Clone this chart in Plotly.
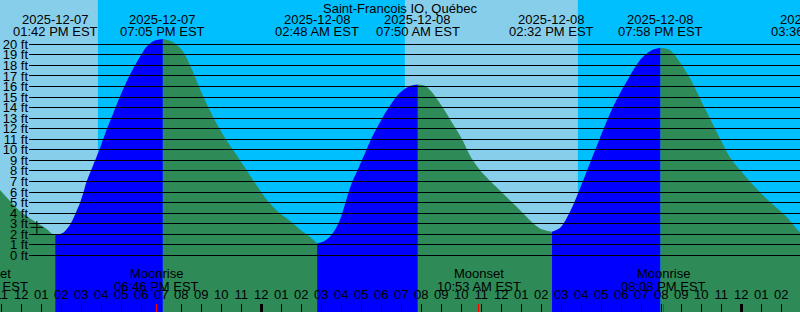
import plotly.graph_objects as go
import pandas as pd

TITLE = "Saint-Francois IO, Québec"
TZ_LABEL = "EST"
FONT = "Liberation Sans, Arial, sans-serif"

# ---- tide curve (local time, feet) ----
TIDE_TIMES = [
    "2025-12-07 10:56", "2025-12-07 11:56", "2025-12-07 12:36", "2025-12-07 13:16",
    "2025-12-07 13:31", "2025-12-07 13:42", "2025-12-07 14:06", "2025-12-07 14:26",
    "2025-12-07 14:41", "2025-12-07 14:56", "2025-12-07 15:06", "2025-12-07 15:16",
    "2025-12-07 15:36", "2025-12-07 15:56",
    "2025-12-07 16:16", "2025-12-07 16:36", "2025-12-07 16:56", "2025-12-07 17:16",
    "2025-12-07 17:36", "2025-12-07 17:56", "2025-12-07 18:16", "2025-12-07 18:36",
    "2025-12-07 19:05", "2025-12-07 19:36", "2025-12-07 20:06", "2025-12-07 20:31",
    "2025-12-07 20:56", "2025-12-07 21:16", "2025-12-07 21:46", "2025-12-07 22:16",
    "2025-12-07 22:46", "2025-12-07 23:26", "2025-12-08 00:16", "2025-12-08 00:56",
    "2025-12-08 01:26", "2025-12-08 01:56", "2025-12-08 02:26", "2025-12-08 02:41",
    "2025-12-08 02:48", "2025-12-08 03:06", "2025-12-08 03:26", "2025-12-08 03:41",
    "2025-12-08 03:56", "2025-12-08 04:11",
    "2025-12-08 04:31", "2025-12-08 04:51", "2025-12-08 05:11", "2025-12-08 05:31",
    "2025-12-08 05:51", "2025-12-08 06:11", "2025-12-08 06:31", "2025-12-08 06:51",
    "2025-12-08 07:11", "2025-12-08 07:31", "2025-12-08 07:50", "2025-12-08 08:11",
    "2025-12-08 08:31", "2025-12-08 09:01", "2025-12-08 09:31", "2025-12-08 10:01",
    "2025-12-08 10:31", "2025-12-08 11:01", "2025-12-08 11:51", "2025-12-08 12:41",
    "2025-12-08 13:31", "2025-12-08 13:56", "2025-12-08 14:32", "2025-12-08 14:56",
    "2025-12-08 15:16", "2025-12-08 15:36", "2025-12-08 15:56", "2025-12-08 16:16",
    "2025-12-08 16:36", "2025-12-08 16:56", "2025-12-08 17:16", "2025-12-08 17:36",
    "2025-12-08 17:56", "2025-12-08 18:16", "2025-12-08 18:36", "2025-12-08 18:56",
    "2025-12-08 19:16", "2025-12-08 19:36", "2025-12-08 19:58", "2025-12-08 20:26",
    "2025-12-08 20:56", "2025-12-08 21:26", "2025-12-08 21:56", "2025-12-08 22:26",
    "2025-12-08 22:56", "2025-12-08 23:26", "2025-12-08 23:56", "2025-12-09 00:36",
    "2025-12-09 01:26", "2025-12-09 02:16", "2025-12-09 02:56", "2025-12-09 03:36",
]
TIDE_FT = [
    6.2, 4.2, 3.3, 2.5,
    2.08, 1.9, 2.14, 2.87,
    3.82, 4.93, 5.88, 6.97,
    8.55, 10.13,
    11.87, 13.45, 15.02, 16.45,
    17.7, 18.8, 19.76, 20.3,
    20.5, 20.2, 19.3, 17.7,
    15.8, 14.4, 12.5, 10.9,
    9.5, 7.6, 5.3, 3.98,
    3.28, 2.46, 1.76, 1.32,
    1.13, 1.29, 1.76, 2.4,
    3.35, 4.8,
    6.8, 8.2, 9.66, 11.1,
    12.3, 13.45, 14.4, 15.25,
    15.8, 16.1, 16.2, 16.07,
    15.5, 14.2, 12.65, 11.1,
    9.2, 7.9, 6.3, 4.76,
    3.18, 2.55, 2.23, 2.6,
    3.5, 4.76, 6.3, 7.9,
    9.5, 11.1, 12.65, 14.1,
    15.35, 16.45, 17.55, 18.5,
    19.1, 19.5, 19.67, 19.45,
    18.3, 16.8, 14.9, 13.0,
    11.1, 9.3, 8.1, 6.65,
    5.07, 3.65, 2.2, 1.6,
]

# ---- high / low tide events ----
EXTREME_TIMES = [
    "2025-12-07 13:42", "2025-12-07 19:05", "2025-12-08 02:48", "2025-12-08 07:50",
    "2025-12-08 14:32", "2025-12-08 19:58", "2025-12-09 03:36",
]

# ---- moon events ----
MOON_EVENTS = ["Moonset", "Moonrise", "Moonset", "Moonrise"]
MOON_TIMES = ["2025-12-07 10:14", "2025-12-07 18:46", "2025-12-08 10:53", "2025-12-08 20:08"]

# ---- daylight periods ----
DAY_STARTS = ["2025-12-07 07:10", "2025-12-08 07:11"]
DAY_ENDS = ["2025-12-07 15:50", "2025-12-08 15:50"]

# ---- current position marker ----
NOW_TIME = ["2025-12-07 12:47"]
NOW_FT = [2.65]

Y_TICKS = list(range(0, 21))
Y_TICK_LABELS = [f"{v} ft" for v in Y_TICKS]

X_RANGE = ["2025-12-07 10:56:24", "2025-12-09 02:56:24"]
Y_RANGE = [-5.37, 24.2]

NIGHT = "#00BFFF"
DAY = "#87CEEB"
RISING = "#0000FF"
FALLING = "#2E8B57"

W, H = 800, 312

X0, X1 = pd.Timestamp(X_RANGE[0]), pd.Timestamp(X_RANGE[1])
midnights = [str(d) for d in pd.date_range(X0.normalize(), X1, freq="D") if X0 <= d <= X1]

fig = go.Figure()

# tide fills, split at the high/low events
idx = [i for i, t in enumerate(TIDE_TIMES) if t in EXTREME_TIMES]
bounds = sorted(set([0] + idx + [len(TIDE_TIMES) - 1]))
for a, b in zip(bounds[:-1], bounds[1:]):
    xs = TIDE_TIMES[a:b + 1]
    ys = TIDE_FT[a:b + 1]
    color = RISING if ys[-1] > ys[0] else FALLING
    fig.add_trace(go.Scatter(x=[xs[0], xs[-1]], y=[Y_RANGE[0], Y_RANGE[0]], mode="lines",
                             line=dict(width=0), hoverinfo="skip", showlegend=False))
    fig.add_trace(go.Scatter(x=xs, y=ys, mode="lines", fill="tonexty", fillcolor=color,
                             line=dict(width=0, shape="spline", smoothing=0.8),
                             hoverinfo="skip", showlegend=False))

fig.add_trace(go.Scatter(x=NOW_TIME, y=NOW_FT, mode="markers",
                         marker=dict(symbol="cross-thin", size=9, line=dict(width=1, color="black")),
                         showlegend=False, hoverinfo="skip"))

# helper traces so the grid / extra tick axes exist
fig.add_trace(go.Scatter(x=[None], y=[None], xaxis="x2", yaxis="y2", showlegend=False, hoverinfo="skip"))
fig.add_trace(go.Scatter(x=midnights, y=[None] * len(midnights), xaxis="x3", yaxis="y",
                         showlegend=False, hoverinfo="skip"))
fig.add_trace(go.Scatter(x=MOON_TIMES, y=[None] * len(MOON_TIMES), xaxis="x4", yaxis="y",
                         showlegend=False, hoverinfo="skip"))

for s, e in zip(DAY_STARTS, DAY_ENDS):
    fig.add_vrect(x0=s, x1=e, fillcolor=DAY, line_width=0, layer="below", opacity=1)


def xpos(t):
    ts = pd.Timestamp(t)
    if X0 <= ts <= X1:
        return dict(x=t, xref="x")
    return dict(x=(ts - X0) / (X1 - X0), xref="paper")


def ypaper(px):
    return 1 - px / H


tf = dict(family=FONT, size=13, color="black")
ann = []
ann.append(dict(text=TITLE, x=0.5, xref="paper", y=ypaper(8), yref="paper",
                showarrow=False, font=tf, xanchor="center", yanchor="middle"))
for t in EXTREME_TIMES:
    ts = pd.Timestamp(t)
    ann.append(dict(text=ts.strftime("%Y-%m-%d"), y=ypaper(19.5), yref="paper", showarrow=False,
                    font=tf, xanchor="center", yanchor="middle", **xpos(t)))
    ann.append(dict(text=ts.strftime("%I:%M %p") + " " + TZ_LABEL, y=ypaper(31.5), yref="paper",
                    showarrow=False, font=tf, xanchor="center", yanchor="middle", **xpos(t)))
for name, t in zip(MOON_EVENTS, MOON_TIMES):
    ts = pd.Timestamp(t)
    ann.append(dict(text=name, y=ypaper(273.5), yref="paper", showarrow=False,
                    font=tf, xanchor="center", yanchor="middle", **xpos(t)))
    ann.append(dict(text=ts.strftime("%I:%M %p") + " " + TZ_LABEL, y=ypaper(286.5), yref="paper",
                    showarrow=False, font=tf, xanchor="center", yanchor="middle", **xpos(t)))

common_x = dict(type="date", range=X_RANGE, showgrid=False, zeroline=False, fixedrange=True,
                side="top", anchor="free", position=0, ticks="outside", ticklen=8,
                automargin=False)

fig.update_layout(
    width=W, height=H, margin=dict(l=0, r=0, t=0, b=0, pad=0, autoexpand=False),
    paper_bgcolor=NIGHT, plot_bgcolor="rgba(0,0,0,0)",
    showlegend=False, annotations=ann,
    font=dict(family=FONT, size=13, color="black"),
    xaxis=dict(**common_x, domain=[0, 1], tickwidth=1, tickcolor="black",
               dtick=3600000, tick0="2025-12-07 00:00", tickformat="%I",
               tickfont=tf, showline=False, ticklabeloverflow="allow"),
    yaxis=dict(range=Y_RANGE, domain=[0, 1], visible=False, fixedrange=True, automargin=False),
    xaxis2=dict(domain=[29 / W, 1], anchor="y2", range=[0, 1], visible=False, fixedrange=True,
                automargin=False),
    yaxis2=dict(range=Y_RANGE, domain=[0, 1], anchor="x2", tickmode="array",
                tickvals=Y_TICKS, ticktext=Y_TICK_LABELS, showgrid=True, gridcolor="black",
                gridwidth=1, zeroline=False, ticks="", tickfont=tf, showline=False, fixedrange=True,
                automargin=False),
    xaxis3=dict(**common_x, overlaying="x", tickmode="array", tickvals=midnights,
                tickwidth=3, tickcolor="black", showticklabels=False),
    xaxis4=dict(**common_x, overlaying="x", tickmode="array", tickvals=MOON_TIMES,
                tickwidth=1, tickcolor="red", showticklabels=False),
)

fig.write_html("out.html")
